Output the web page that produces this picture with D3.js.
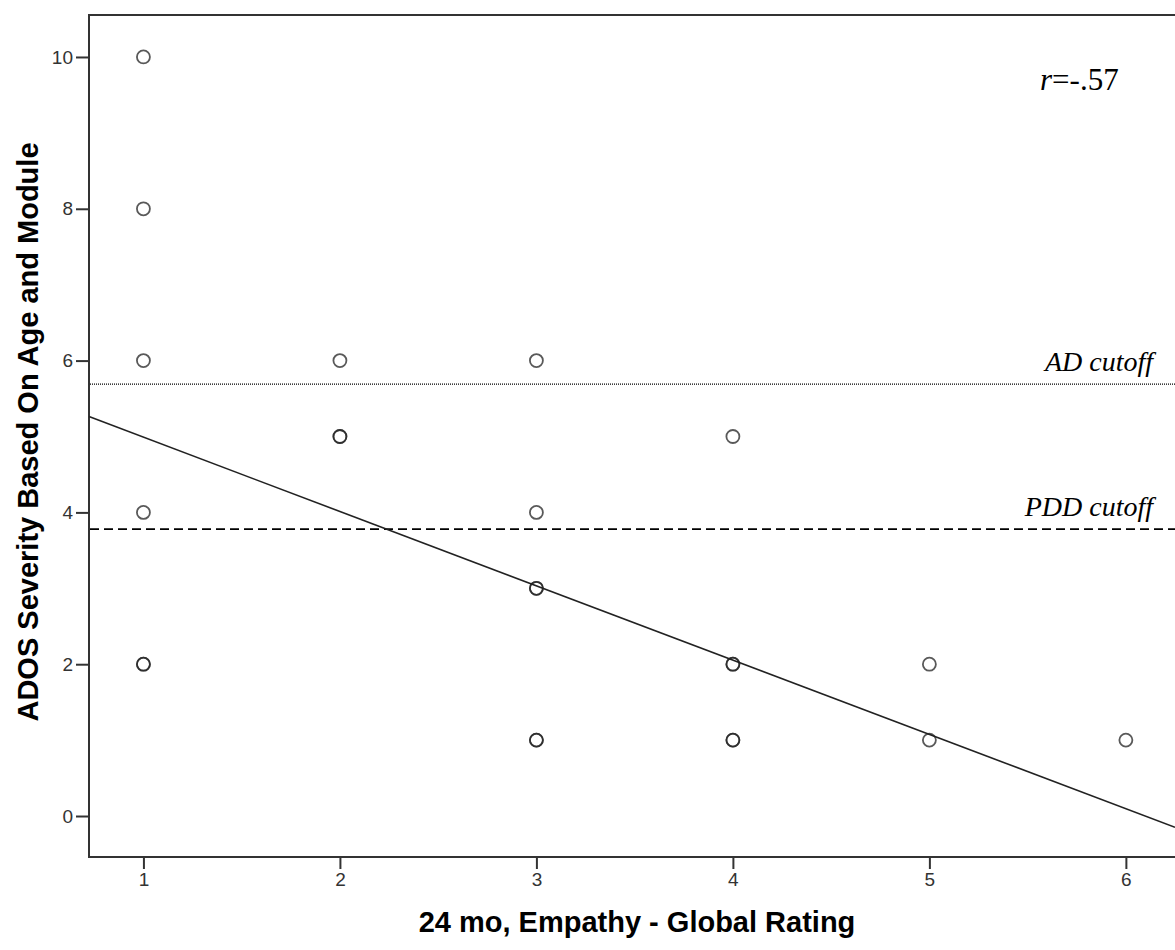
<!DOCTYPE html>
<html>
<head>
<meta charset="utf-8">
<script src="https://cdn.jsdelivr.net/npm/d3@7"></script>
<style>
  body { margin: 0; background: #fff; }
  svg { display: block; }
</style>
</head>
<body>
<svg id="chart"></svg>
<script>
// data; repeated entries are overlapping cases
const empathy  = [1, 1, 1, 1, 1, 1, 2, 2, 2, 3, 3, 3, 3, 3, 3, 4, 4, 4, 4, 4, 5, 5, 6];
const severity = [10, 8, 6, 4, 2, 2, 6, 5, 5, 6, 4, 3, 3, 1, 1, 5, 2, 2, 1, 1, 2, 1, 1];
const xTicks = [1, 2, 3, 4, 5, 6];
const yTicks = [0, 2, 4, 6, 8, 10];
const fitIntercept = 5.97;
const fitSlope = -0.979;
const cutoffs = [
  { label: "AD cutoff", value: 5.69, dash: "1,1", width: 1.3 },
  { label: "PDD cutoff", value: 3.78, dash: "9,5", width: 1.6 }
];
const rText = ".57";

const svgWidth = 1175, svgHeight = 950;
const margin = {top: 15, bottom: 93, left: 89, right: 0};

const svg = d3.select("#chart")
    .attr("width", svgWidth)
    .attr("height", svgHeight);

const x = d3.scaleLinear()
    .domain([0.723, 6.25])
    .range([margin.left, svgWidth - margin.right]);
const y = d3.scaleLinear()
    .domain([-0.54, 10.553])
    .range([svgHeight - margin.bottom, margin.top]);

const axisColor = "#333";

// x axis
const gx = svg.append("g")
    .attr("transform", `translate(0,${svgHeight - margin.bottom})`)
    .call(d3.axisBottom(x).tickValues(xTicks).tickFormat(d3.format("d")).tickSize(12).tickPadding(4));
// y axis
const gy = svg.append("g")
    .attr("transform", `translate(${margin.left},0)`)
    .call(d3.axisLeft(y).tickValues(yTicks).tickFormat(d3.format("d")).tickSize(13).tickPadding(3));

[gx, gy].forEach(g => {
  g.select(".domain").remove();
  g.selectAll(".tick line").attr("stroke", axisColor).attr("stroke-width", 2);
  g.selectAll(".tick text")
      .attr("fill", "#333")
      .style("font-family", "Liberation Sans, Arial, sans-serif")
      .style("font-size", "19px");
});

// frame: left, top, bottom
svg.append("path")
    .attr("d", `M${svgWidth},${margin.top}H${margin.left}V${svgHeight - margin.bottom}H${svgWidth}`)
    .attr("fill", "none")
    .attr("stroke", axisColor)
    .attr("stroke-width", 2);

// cutoff lines
cutoffs.forEach(c => {
  svg.append("line")
      .attr("x1", margin.left + 1)
      .attr("x2", svgWidth)
      .attr("y1", y(c.value))
      .attr("y2", y(c.value))
      .attr("stroke", "#000")
      .attr("stroke-width", c.width)
      .attr("stroke-dasharray", c.dash);
  svg.append("text")
      .text(c.label)
      .attr("x", 1153)
      .attr("y", y(c.value) - 13)
      .attr("text-anchor", "end")
      .style("font-family", "Liberation Serif, Times New Roman, serif")
      .style("font-style", "italic")
      .style("font-size", "28px");
});

// fit line
const xd = x.domain();
svg.append("line")
    .attr("x1", x(xd[0]))
    .attr("y1", y(fitIntercept + fitSlope * xd[0]))
    .attr("x2", x(xd[1]))
    .attr("y2", y(fitIntercept + fitSlope * xd[1]))
    .attr("stroke", "#222")
    .attr("stroke-width", 1.6);

// points
svg.append("g")
  .selectAll("circle")
  .data(empathy.map((d, i) => [d, severity[i]]))
  .join("circle")
    .attr("cx", d => x(d[0]))
    .attr("cy", d => y(d[1]))
    .attr("r", 6.5)
    .attr("fill", "none")
    .attr("stroke", "#222")
    .attr("stroke-opacity", 0.75)
    .attr("stroke-width", 1.8);

// r annotation
const rt = svg.append("text")
    .attr("x", 1040)
    .attr("y", 90)
    .style("font-family", "Liberation Serif, Times New Roman, serif")
    .style("font-size", "31px");
rt.append("tspan").style("font-style", "italic").text("r");
rt.append("tspan").text("=-" + rText);

// axis titles
svg.append("text")
    .text("24 mo, Empathy - Global Rating")
    .attr("x", 637)
    .attr("y", 932)
    .attr("text-anchor", "middle")
    .style("font-family", "Liberation Sans, Arial, sans-serif")
    .style("font-weight", "bold")
    .style("font-size", "29px");

svg.append("text")
    .text("ADOS Severity Based On Age and Module")
    .attr("transform", `translate(38,432) rotate(-90)`)
    .attr("text-anchor", "middle")
    .style("font-family", "Liberation Sans, Arial, sans-serif")
    .style("font-weight", "bold")
    .style("font-size", "29px");
</script>
</body>
</html>
